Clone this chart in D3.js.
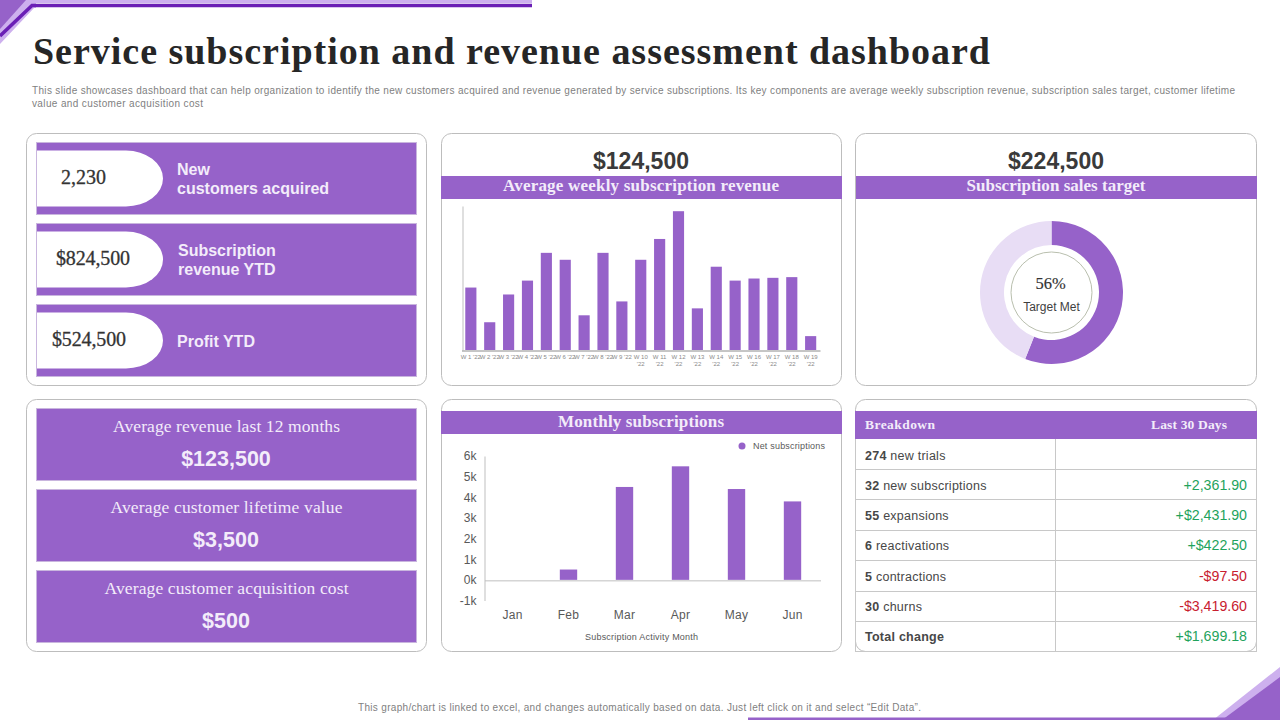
<!DOCTYPE html>
<html><head><meta charset="utf-8">
<script src="https://cdn.jsdelivr.net/npm/d3@7"></script>
<style>html,body{margin:0;padding:0;background:#fff}svg{display:block}</style></head>
<body><svg id="c" width="1280" height="720"></svg>
<script>
const weeklyLabels=["W 1 '22","W 2 '22","W 3 '22","W 4 '22","W 5 '22","W 6 '22","W 7 '22","W 8 '22","W 9 '22","W 10 '22","W 11 '22","W 12 '22","W 13 '22","W 14 '22","W 15 '22","W 16 '22","W 17 '22","W 18 '22","W 19 '22"];
const weeklyValues=[9,4,8,10,14,13,5,14,7,13,16,20,6,12,10,10.3,10.4,10.5,2];
const months=["Jan","Feb","Mar","Apr","May","Jun"];
const netSubscriptions=[0,0.5,4.5,5.5,4.4,3.8];
const monthlyTicks=[-1,0,1,2,3,4,5,6];
const targetShare=[56,44];
const kpiValues=["2,230","$824,500","$524,500"];
const kpiLabels=[["New","customers acquired"],["Subscription","revenue YTD"],["Profit YTD"]];
const avgLabels=["Average revenue last 12 months","Average customer lifetime value","Average customer acquisition cost"];
const avgValues=["$123,500","$3,500","$500"];
const breakdownCounts=["274","32","55","6","5","30","Total change"];
const breakdownNames=["new trials","new subscriptions","expansions","reactivations","contractions","churns",""];
const breakdownValues=["","+2,361.90","+$2,431.90","+$422.50","-$97.50","-$3,419.60","+$1,699.18"];

const P="#9662C9",LIGHT="#E8DDF5",DARK="#6A1FB5",MID="#CDB0EE",INK="#3a3a3a",GRID="#bdbdbd";
const SERIF="'Liberation Serif',serif",SANS="'Liberation Sans',Arial,sans-serif";
const svg=d3.select("#c");
function txt(g,x,y,s,o={}){
  const t=g.append("text").attr("x",x).attr("y",y).text(s)
    .attr("font-family",o.f||SANS).attr("font-size",o.s||12).attr("fill",o.c||INK)
    .attr("text-anchor",o.a||"start").attr("font-weight",o.w||"normal");
  if(o.len)t.attr("textLength",o.len).attr("lengthAdjust","spacing");
  if(o.st)t.attr("stroke",o.c||INK).attr("stroke-width",o.st);
  return t;
}
function rect(x,y,w,h,fill,o={}){
  return svg.append("rect").attr("x",x).attr("y",y).attr("width",w).attr("height",h).attr("fill",fill)
    .attr("rx",o.r||0).attr("stroke",o.st||"none").attr("stroke-width",o.sw||1);
}
function poly(pts,fill){svg.append("polygon").attr("points",pts).attr("fill",fill);}

// corner decoration
poly("0,0 532,0 532,3 36,3 36,8 34,8 0,44",MID);
poly("0,0 26,0 0,29",P);
svg.append("polyline").attr("points","532,5.5 32,5.5 0,36").attr("fill","none").attr("stroke",DARK).attr("stroke-width",3.5);
poly("1280,667 1280,720 1213,720",MID);
poly("1280,677 1280,720 1222,720",P);
rect(748,717.5,532,2.5,P);

// title
txt(svg,33,64,"Service subscription and revenue assessment dashboard",{f:SERIF,s:38,w:"bold",c:"#262626",len:957});
txt(svg,32,94,"This slide showcases dashboard that can help organization to identify the new customers acquired and revenue generated by service subscriptions. Its key components are average weekly subscription revenue, subscription sales target, customer lifetime",{s:10,c:"#7f7f7f",len:1203});
txt(svg,32,107,"value and customer acquisition cost",{s:10,c:"#7f7f7f",len:171});
txt(svg,358,711,"This graph/chart is linked to excel, and changes automatically based on data. Just left click on it and select \u201CEdit Data\u201D.",{s:10,c:"#7f7f7f",len:563});

// panels
[[26.5,133.5],[441.5,133.5],[855.5,133.5],[26.5,399.5],[441.5,399.5],[855.5,399.5]].forEach(d=>
  rect(d[0],d[1],d[0]>800?401:400,252,"#fff",{r:10,st:GRID}));

// KPI rows
const kpiY=[142,223,304];
const kpiValueX=[83.5,93,89],kpiValueLen=[45,74,74],kpiLabelX=[177,178,177];
kpiY.forEach((y,i)=>{
  rect(36.5,y+.5,380,72,P,{st:"#c9b6de"});
  svg.append("path").attr("fill","#fff")
    .attr("d",`M37,${y+8.5}H126a37,28 0 0 1 37,28a37,28 0 0 1 -37,28H37Z`);
  txt(svg,kpiValueX[i],y+42,kpiValues[i],{f:SERIF,s:20,a:"middle",c:"#333",st:.3,len:kpiValueLen[i]});
  const ls=kpiLabels[i];
  ls.forEach((l,j)=>txt(svg,kpiLabelX[i],ls.length>1?y+33+j*19:y+43,l,{s:16,w:"bold",c:"#f3ecfa"}));
});

// average rows
const avgY=[408,489,570],avgLens=[227,232,244];
avgY.forEach((y,i)=>{
  rect(36.5,y+.5,380,72,P,{st:"#c9b6de"});
  txt(svg,226.5,y+24,avgLabels[i],{f:SERIF,s:17.5,a:"middle",c:"#f3ecfa",len:avgLens[i]});
  txt(svg,226,y+58,avgValues[i],{s:21.5,w:"bold",a:"middle",c:"#f3ecfa"});
});

// headline + banner
[[641,"$124,500","Average weekly subscription revenue",441,401,276],[1056,"$224,500","Subscription sales target",856,401,179]].forEach(d=>{
  txt(svg,d[0],169,d[1],{s:23,w:"bold",a:"middle",c:"#3a3a3a"});
  rect(d[3],176,d[4],23,P);
  txt(svg,d[0],191,d[2],{f:SERIF,s:17,w:"bold",a:"middle",c:"#f3ecfa",len:d[5]});
});
rect(441,411,401,23,P);
txt(svg,641,427,"Monthly subscriptions",{f:SERIF,s:17,w:"bold",a:"middle",c:"#f3ecfa",len:166});

// weekly chart
const wx=d3.scaleBand().domain(weeklyLabels).range([461.5,820]).paddingInner(.41).paddingOuter(.2);
const wy=d3.scaleLinear().domain([0,20.75]).range([350,206]);
const wg=svg.append("g");
wg.selectAll("rect").data(weeklyValues).join("rect")
  .attr("x",(d,i)=>wx(weeklyLabels[i])).attr("width",wx.bandwidth())
  .attr("y",d=>wy(d)).attr("height",d=>wy(0)-wy(d)).attr("fill",P);
wg.append("g").attr("transform","translate(462.5,0)").call(d3.axisLeft(wy).tickValues([]).tickSize(0))
  .call(g=>g.select(".domain").attr("stroke","#bfbfbf"));
wg.append("g").attr("transform","translate(0,350.5)").call(d3.axisBottom(wx).tickSize(0).tickFormat(()=>""))
  .call(g=>g.select(".domain").attr("stroke","#8c8c8c"));
weeklyLabels.forEach((l,i)=>{
  const cx=wx(l)+wx.bandwidth()/2;
  if(i<9)txt(wg,cx,358.5,l,{s:6,a:"middle",c:"#8a8a8a"});
  else{const p=l.split(" '");
    txt(wg,cx,358.5,p[0],{s:6,a:"middle",c:"#8a8a8a"});
    txt(wg,cx,365.5,"'"+p[1],{s:6,a:"middle",c:"#8a8a8a"});}
});

// donut
const pie=d3.pie().sort(null)(targetShare);
const arc=d3.arc().innerRadius(47.5).outerRadius(71.5);
const dg=svg.append("g").attr("transform","translate(1051.5,292.5)");
dg.selectAll("path").data(pie).join("path").attr("d",arc).attr("fill",(d,i)=>i?LIGHT:P);
dg.append("circle").attr("r",40.5).attr("fill","#fff").attr("stroke","#b9bfae");
txt(dg,-1,-3.5,targetShare[0]+"%",{f:SERIF,s:16.5,a:"middle",c:"#333",st:.15});
txt(dg,0,18.5,"Target Met",{s:12,a:"middle",c:"#3f3f3f"});

// monthly chart
const mx=d3.scaleBand().domain(months).range([484.5,820.5]).paddingInner(.69).paddingOuter(.345);
const my=d3.scaleLinear().domain([-1,6]).range([600.5,456]);
const mg=svg.append("g");
mg.selectAll("rect").data(netSubscriptions).join("rect")
  .attr("x",(d,i)=>mx(months[i])).attr("width",mx.bandwidth())
  .attr("y",d=>my(d)).attr("height",d=>my(0)-my(d)).attr("fill",P);
mg.append("g").attr("transform","translate(484.5,0)")
  .call(d3.axisLeft(my).tickValues(monthlyTicks).tickSize(0).tickPadding(8).tickFormat(d=>d+"k"))
  .call(g=>{g.select(".domain").attr("stroke","#bfbfbf");
    g.selectAll("text").attr("font-family",SANS).attr("font-size",12).attr("fill","#595959");});
mg.append("g").attr("transform",`translate(0,${my(0)+.5})`)
  .call(d3.axisBottom(mx).tickSize(0).tickPadding(30))
  .call(g=>{g.select(".domain").attr("stroke","#bfbfbf");
    g.selectAll("text").attr("font-family",SANS).attr("font-size",12).attr("fill","#595959").attr("letter-spacing",.3);});
mg.append("circle").attr("cx",742).attr("cy",446).attr("r",3.5).attr("fill",P);
txt(mg,753,449,"Net subscriptions",{s:9,c:"#595959",len:72});
txt(mg,585,640,"Subscription Activity Month",{s:9,c:"#595959",len:113});

// table
rect(855,411,402,28,P);
txt(svg,865,429,"Breakdown",{f:SERIF,s:13.5,w:"bold",c:"#f3ecfa",len:70});
txt(svg,1189,429,"Last 30 Days",{f:SERIF,s:13.5,w:"bold",a:"middle",c:"#f3ecfa",len:76});
const rowLines=[469,499,530,560,591,621,651];
const rowText=[460,490,520,550,581,611,641];
rowLines.forEach(y=>svg.append("line").attr("x1",855).attr("x2",1257).attr("y1",y+.5).attr("y2",y+.5).attr("stroke","#c8c8c8"));
[855.5,1055.5,1256.5].forEach(x=>svg.append("line").attr("x1",x).attr("x2",x).attr("y1",439).attr("y2",651).attr("stroke","#c8c8c8"));
breakdownCounts.forEach((c,i)=>{
  const y=rowText[i];
  const t=txt(svg,865,y,"",{s:12.5,c:"#474747"}).attr("letter-spacing",.25);
  t.append("tspan").attr("font-weight","bold").text(c);
  if(breakdownNames[i])t.append("tspan").text(" "+breakdownNames[i]);
  const v=breakdownValues[i];
  if(v)txt(svg,1247,y,v,{s:14.2,a:"end",c:v[0]=="-"?"#C8202F":"#1FA35C"});
});
</script></body></html>
